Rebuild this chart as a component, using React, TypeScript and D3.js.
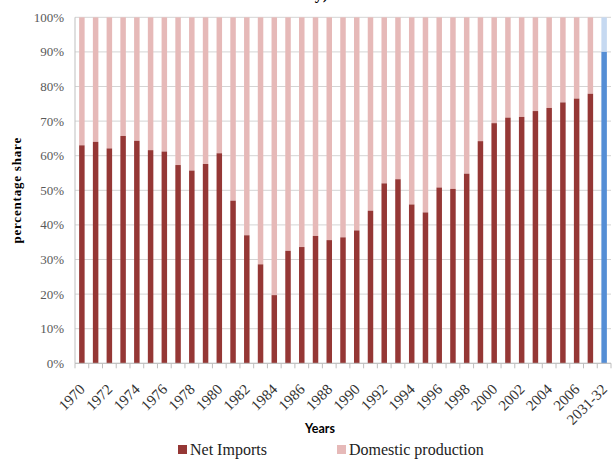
import React from "react";
import * as d3 from "d3";

const years: string[] = [
  "1970","1971","1972","1973","1974","1975","1976","1977","1978","1979",
  "1980","1981","1982","1983","1984","1985","1986","1987","1988","1989",
  "1990","1991","1992","1993","1994","1995","1996","1997","1998","1999",
  "2000","2001","2002","2003","2004","2005","2006","2007","2031-32",
];
const netImports: number[] = [
  63, 64, 62.1, 65.7, 64.3, 61.6, 61.2, 57.3, 55.7, 57.6,
  60.7, 47, 37, 28.6, 19.7, 32.5, 33.6, 36.8, 35.6, 36.4,
  38.4, 44.1, 52, 53.2, 45.9, 43.6, 50.8, 50.4, 54.8, 64.2,
  69.4, 71, 71.2, 72.9, 73.8, 75.4, 76.5, 77.9, 90,
];
const projectedLabel = "2031-32";
const yTicks: number[] = [0, 10, 20, 30, 40, 50, 60, 70, 80, 90, 100];
const seriesNames: string[] = ["Net Imports", "Domestic production"];
const titleFragment = "y)";

const W = 614;
const H = 459;
const left = 75;
const right = 611;
const top = 17.3;
const bottom = 363.3;

const C_IMP = "#953735";
const C_DOM = "#e6b9b8";
const C_PROJ = "#558ed5";
const C_PROJ_LIGHT = "#c6d9f1";
const serif = "'Liberation Serif', 'DejaVu Serif', serif";

export default function App() {
  const x = d3.scaleBand<string>().domain(years).range([left, right]).paddingInner(0.6).paddingOuter(0.3);
  const y = d3.scaleLinear().domain([0, 100]).range([bottom, top]);
  const boundaries = d3.range(years.length + 1).map((i) => left + (right - left) * (i / years.length));

  return (
    <svg width={W} height={H} style={{ position: "absolute", left: 0, top: 0, background: "#fff" }}>
      <text x={328} y={-1} textAnchor="end" fontFamily={serif} fontWeight="bold" fontSize={16} fill="#000">
        {titleFragment}
      </text>
      {yTicks.map((t) => (
        <g key={t}>
          <line x1={left} x2={right} y1={y(t)} y2={y(t)} stroke="#d4d4d4" strokeWidth={1} />
          <text x={64} y={y(t)} dy="0.35em" textAnchor="end" fontFamily={serif} fontSize={13} fill="#595959">
            {t}%
          </text>
        </g>
      ))}
      {years.map((yr, i) => {
        const isProj = yr === projectedLabel;
        const v = netImports[i];
        const bx = x(yr) as number;
        const bw = x.bandwidth();
        return (
          <g key={yr}>
            <rect x={bx} width={bw} y={y(100)} height={y(v) - y(100)} fill={isProj ? C_PROJ_LIGHT : C_DOM} />
            <rect x={bx} width={bw} y={y(v)} height={y(0) - y(v)} fill={isProj ? C_PROJ : C_IMP} />
          </g>
        );
      })}
      <line x1={left} x2={left} y1={top} y2={bottom} stroke="#bfbfbf" />
      <line x1={left} x2={right} y1={bottom} y2={bottom} stroke="#bfbfbf" />
      {boundaries.map((b, i) => (
        <line key={i} x1={b} x2={b} y1={bottom} y2={bottom + 5} stroke="#bfbfbf" />
      ))}
      {years.map((yr, i) => {
        if (i % 2 !== 0 && yr !== projectedLabel) return null;
        const cx = (x(yr) as number) + x.bandwidth() / 2 + 4;
        return (
          <text
            key={yr}
            transform={`translate(${cx},${bottom + 27}) rotate(-45)`}
            textAnchor="end"
            fontFamily={serif}
            fontSize={15}
            fill="#333"
          >
            {yr}
          </text>
        );
      })}
      <text
        transform={`translate(21,${(top + bottom) / 2}) rotate(-90)`}
        textAnchor="middle"
        fontFamily={serif}
        fontWeight="bold"
        fontSize={13}
        letterSpacing={0.8}
        fill="#000"
      >
        percentage share
      </text>
      <text x={320} y={432.5} textAnchor="middle" fontFamily="Lato, 'Open Sans', sans-serif" fontWeight="bold" fontSize={12.5} fill="#000">
        Years
      </text>
      <g>
        <rect x={178} y={445} width={9} height={9} fill={C_IMP} />
        <text x={190} y={455} fontFamily={serif} fontSize={16} fill="#222">{seriesNames[0]}</text>
        <rect x={337} y={445} width={9} height={9} fill={C_DOM} />
        <text x={349} y={455} fontFamily={serif} fontSize={16} fill="#222">{seriesNames[1]}</text>
      </g>
    </svg>
  );
}
